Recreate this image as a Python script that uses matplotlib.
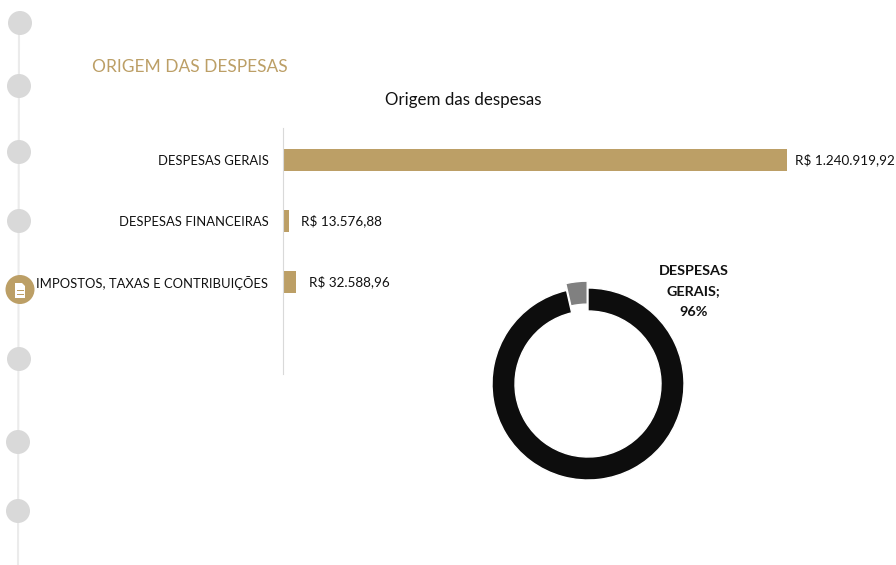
import matplotlib
matplotlib.use("Agg")
import matplotlib.pyplot as plt
from matplotlib.patches import Circle, Polygon, Rectangle

plt.rcParams['font.family'] = ['Lato', 'DejaVu Sans']

W, H = 896, 565
GOLD = '#BC9F66'
DOT = '#D9D9D9'

categories = ['DESPESAS GERAIS', 'DESPESAS FINANCEIRAS', 'IMPOSTOS, TAXAS E CONTRIBUIÇÕES']
values = [1240919.92, 13576.88, 32588.96]
value_labels = ['R$ 1.240.919,92', 'R$ 13.576,88', 'R$ 32.588,96']
label_pads = [6, 9, 9.5]

donut_values = [values[0], values[1] + values[2]]
donut_colors = ['#0D0D0D', '#808080']
donut_explode = [0, 0.065]
donut_label = ['DESPESAS', 'GERAIS;', '96%']

dots_x = [20, 19, 19, 19, 19, 18, 18]
dots_y = [23, 86, 152, 221, 359, 442, 511]


def pixel_axes(fig, left, top, right, bottom):
    return fig.add_axes([left / W, 1 - bottom / H, (right - left) / W, (bottom - top) / H])


fig = plt.figure(figsize=(W / 100, H / 100), dpi=100, facecolor='white')

# page decoration, in pixel coordinates
bg = fig.add_axes([0, 0, 1, 1])
bg.set_xlim(0, W)
bg.set_ylim(H, 0)
bg.axis('off')
bg.plot([19, 18], [30, 565], color='#EBEBEB', lw=1.5, zorder=1)
for x, y in zip(dots_x, dots_y):
    bg.add_patch(Circle((x, y), 12, color=DOT, lw=0, zorder=2))
bg.add_patch(Circle((20, 289.5), 14.5, color=GOLD, lw=0, zorder=2))
bg.add_patch(Polygon([(15, 283), (22, 283), (25, 286), (25, 298), (15, 298)], color='white', lw=0, zorder=3))
for y in [289.5, 293.5]:
    bg.add_patch(Rectangle((17, y), 7, 1.2, color=GOLD, lw=0, zorder=4))

fig.text(92 / W, 1 - 67 / H, 'ORIGEM DAS DESPESAS', color=GOLD, fontsize=12.5, va='center', ha='left')
fig.text(463 / W, 1 - 100 / H, 'Origem das despesas', color='#111111', fontsize=12.2, va='center', ha='center')

# bars
ax = pixel_axes(fig, 283, 128, 787, 374)
ax.patch.set_alpha(0)
ax.barh(range(len(values)), values, height=0.36, color=GOLD)
ax.set_xlim(0, values[0])
ax.set_ylim(3.508, -0.525)
ax.set_yticks(range(len(categories)))
ax.set_yticklabels(categories, fontsize=9.4, color='#111111')
ax.tick_params(axis='y', length=0, pad=10.5)
ax.set_xticks([])
for side in ['top', 'right', 'bottom']:
    ax.spines[side].set_visible(False)
ax.spines['left'].set_color('#D9D9D9')
ax.spines['left'].set_linewidth(0.8)
for i, (v, lab, pad) in enumerate(zip(values, value_labels, label_pads)):
    ax.annotate(lab, (v, i), xytext=(pad, 0), textcoords='offset points', va='center', ha='left',
                fontsize=9.7, color='#111111', annotation_clip=False)

# donut
ax2 = pixel_axes(fig, 482, 278, 694, 490)
ax2.patch.set_alpha(0)
wedges, _ = ax2.pie(donut_values, startangle=90, counterclock=False, radius=96 / 106, colors=donut_colors,
                    explode=donut_explode, wedgeprops=dict(width=23 / 106, edgecolor='white', linewidth=1))
ax2.set_xlim(-1, 1)
ax2.set_ylim(-1, 1)
for line, y in zip(donut_label, [271, 291.5, 312]):
    fig.text(693.5 / W, 1 - y / H, line, fontsize=10.4, fontweight='bold',
             color='#111111', ha='center', va='center')

fig.savefig('out.png', dpi=100)
